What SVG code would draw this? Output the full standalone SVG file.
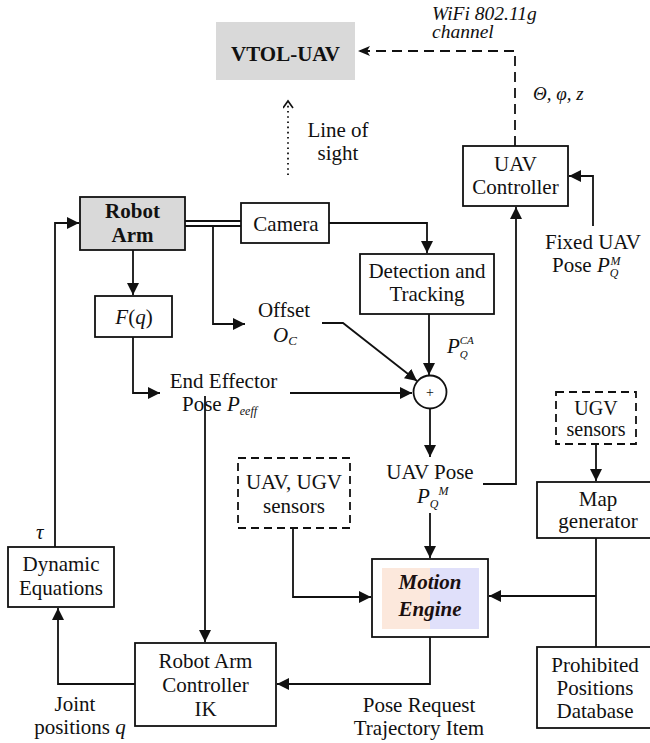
<svg xmlns="http://www.w3.org/2000/svg" width="650" height="743" viewBox="0 0 650 743">
<defs>
<style>
text{font-family:"Liberation Serif","Times New Roman",serif;font-size:21px;fill:#111}
.c{text-anchor:middle}
.i{font-style:italic}
.b{font-weight:bold}
.s{font-size:12px;font-style:italic}
.box{fill:#fff;stroke:#111;stroke-width:1.8}
.dbox{fill:#fff;stroke:#111;stroke-width:1.8;stroke-dasharray:8,5}
.ln{fill:none;stroke:#111;stroke-width:1.8}
</style>
<marker id="ar" markerUnits="userSpaceOnUse" markerWidth="14" markerHeight="12" refX="12" refY="6" orient="auto">
<path d="M0,0 L12,6 L0,12 z" fill="#111"/>
</marker>
<marker id="ar2" markerUnits="userSpaceOnUse" markerWidth="14" markerHeight="12" refX="12" refY="5" orient="auto">
<path d="M0,0 L12,5 L0,10 L3,5 z" fill="#111"/>
</marker>
<marker id="op" markerUnits="userSpaceOnUse" markerWidth="10" markerHeight="12" refX="8" refY="5" orient="auto">
<path d="M1,0 L8,5 L1,10" fill="none" stroke="#111" stroke-width="1.6"/>
</marker>
</defs>

<g id="connectors">
<path class="ln" d="M515,146 V51 H358" stroke-dasharray="10,6" marker-end="url(#ar2)"/>
<path class="ln" d="M288,175 V101" stroke-dasharray="1.6,3.6" marker-end="url(#op)"/>
<path class="ln" d="M593,226 V176 H569" marker-end="url(#ar)"/>
<path class="ln" d="M185,221 H241" stroke-width="3.2"/>
<path class="ln" d="M185,226 H241"/>
<path class="ln" d="M213,226 V324 H245" marker-end="url(#ar)"/>
<path class="ln" d="M329,223 H427 V253" marker-end="url(#ar)"/>
<path class="ln" d="M133,250 V295" marker-end="url(#ar)"/>
<path class="ln" d="M133,337 V393 H160" marker-end="url(#ar)"/>
<path class="ln" d="M290,393 H412" marker-end="url(#ar)"/>
<path class="ln" d="M322,323 H343 L417,381" marker-end="url(#ar)"/>
<path class="ln" d="M429,314 V375" marker-end="url(#ar)"/>
<path class="ln" d="M430,409 V457" marker-end="url(#ar)"/>
<path class="ln" d="M483,484 H516 V207" marker-end="url(#ar)"/>
<path class="ln" d="M430,513 V558" marker-end="url(#ar)"/>
<path class="ln" d="M293,528 V597 H371" marker-end="url(#ar)"/>
<path class="ln" d="M596,444 V481" marker-end="url(#ar)"/>
<path class="ln" d="M596,538 V647"/>
<path class="ln" d="M596,596 H489" marker-end="url(#ar)"/>
<path class="ln" d="M430,637 V684 H277" marker-end="url(#ar)"/>
<path class="ln" d="M135,684 H58 V608" marker-end="url(#ar)"/>
<path class="ln" d="M55,547 V223 H79" marker-end="url(#ar)"/>
<path class="ln" d="M205,396 V642" marker-end="url(#ar)"/>
</g>

<g id="vtol">
<rect x="216" y="22" width="139" height="58" fill="#d9d9d9"/>
<text class="c b" x="285.5" y="61" font-size="21">VTOL-UAV</text>
</g>

<g id="wifi-label">
<text class="i" x="432" y="20" style="font-size:19.5px">WiFi 802.11g</text>
<text class="i" x="432" y="38" style="font-size:19.5px">channel</text>
</g>

<g id="angles-label">
<text class="i" x="533" y="100" style="font-size:19px">Θ, φ, z</text>
</g>

<g id="los-label">
<text class="c" x="338" y="137">Line of</text>
<text class="c" x="338" y="160">sight</text>
</g>

<g id="uav-controller">
<rect class="box" x="463" y="146" width="105" height="60"/>
<text class="c" x="515.5" y="171">UAV</text>
<text class="c" x="515.5" y="194">Controller</text>
</g>

<g id="fixed-pose">
<text class="c" x="593" y="249">Fixed UAV</text>
<text x="552" y="272">Pose <tspan class="i">P</tspan><tspan class="s" dy="5">Q</tspan><tspan class="s" dx="-8" dy="-12">M</tspan></text>
</g>

<g id="robot-arm">
<rect class="box" x="80" y="197" width="105" height="53" style="fill:#d9d9d9"/>
<text class="c b" x="132.5" y="218">Robot</text>
<text class="c b" x="132.5" y="242">Arm</text>
</g>

<g id="camera">
<rect class="box" x="241" y="203" width="88" height="40"/>
<text class="c" x="286" y="231">Camera</text>
</g>

<g id="fq">
<rect class="box" x="95" y="296" width="77" height="41"/>
<text class="c" x="134" y="324"><tspan class="i">F</tspan>(<tspan class="i">q</tspan>)</text>
</g>

<g id="offset">
<text class="c" x="284" y="317">Offset</text>
<text x="273" y="342"><tspan class="i">O</tspan><tspan class="i" style="font-size:13px" dy="3">C</tspan></text>
</g>

<g id="end-effector">
<text class="c" x="223.5" y="388">End Effector</text>
<text x="182" y="411">Pose <tspan class="i">P</tspan><tspan class="s" dy="4">eeff</tspan></text>
</g>

<g id="detection">
<rect class="box" x="360" y="254" width="134" height="60"/>
<text class="c" x="427" y="278">Detection and</text>
<text class="c" x="427" y="301">Tracking</text>
</g>

<g id="pqca-label">
<text x="447" y="353"><tspan class="i">P</tspan><tspan class="s" dy="5" style="font-size:11px">Q</tspan><tspan class="s" dx="-8" dy="-14" style="font-size:11px">CA</tspan></text>
</g>

<g id="sum">
<circle cx="430" cy="392" r="16.5" fill="#fff" stroke="#111" stroke-width="1.8"/>
<text class="c" x="430" y="397" style="font-size:14px">+</text>
</g>

<g id="uav-pose">
<text class="c" x="430" y="479">UAV Pose</text>
<text x="417" y="503"><tspan class="i">P</tspan><tspan class="s" dy="5">Q</tspan><tspan class="s" dy="-13">M</tspan></text>
</g>

<g id="ugv-sensors">
<rect class="dbox" x="556" y="392" width="80" height="52"/>
<text class="c" x="596" y="415" style="font-size:20px">UGV</text>
<text class="c" x="596" y="436" style="font-size:20px">sensors</text>
</g>

<g id="map-generator">
<rect class="box" x="537" y="482" width="114" height="56"/>
<text class="c" x="598" y="506">Map</text>
<text class="c" x="598" y="528">generator</text>
</g>

<g id="prohibited-db">
<rect class="box" x="537" y="647" width="114" height="81"/>
<text class="c" x="595" y="672">Prohibited</text>
<text class="c" x="595" y="695">Positions</text>
<text class="c" x="595" y="718">Database</text>
</g>

<g id="uav-ugv-sensors">
<rect class="dbox" x="238" y="458" width="112" height="70"/>
<text class="c" x="294" y="489">UAV, UGV</text>
<text class="c" x="294" y="513">sensors</text>
</g>

<g id="motion-engine">
<rect class="box" x="372" y="559" width="116" height="78" stroke-width="2.2"/>
<rect x="382" y="568" width="48" height="61" fill="#fce8dc"/>
<rect x="430" y="568" width="49" height="61" fill="#e0e0fa"/>
<text class="c b i" x="430" y="589" style="fill:#1a0f0f">Motion</text>
<text class="c b i" x="430" y="616" style="fill:#1a0f0f">Engine</text>
</g>

<g id="robot-arm-controller">
<rect class="box" x="135" y="643" width="141" height="83"/>
<text class="c" x="205.5" y="668">Robot Arm</text>
<text class="c" x="205.5" y="692">Controller</text>
<text class="c" x="205.5" y="716">IK</text>
</g>

<g id="dynamic-equations">
<rect class="box" x="8" y="547" width="106" height="60"/>
<text class="c" x="61" y="571">Dynamic</text>
<text class="c" x="61" y="595">Equations</text>
</g>

<g id="tau-label">
<text class="i" x="36" y="539">τ</text>
</g>

<g id="joint-label">
<text class="c" x="75" y="711">Joint</text>
<text class="c" x="80" y="734">positions <tspan class="i">q</tspan></text>
</g>

<g id="pose-request-label">
<text class="c" x="419" y="712">Pose Request</text>
<text class="c" x="419" y="735">Trajectory Item</text>
</g>
</svg>
